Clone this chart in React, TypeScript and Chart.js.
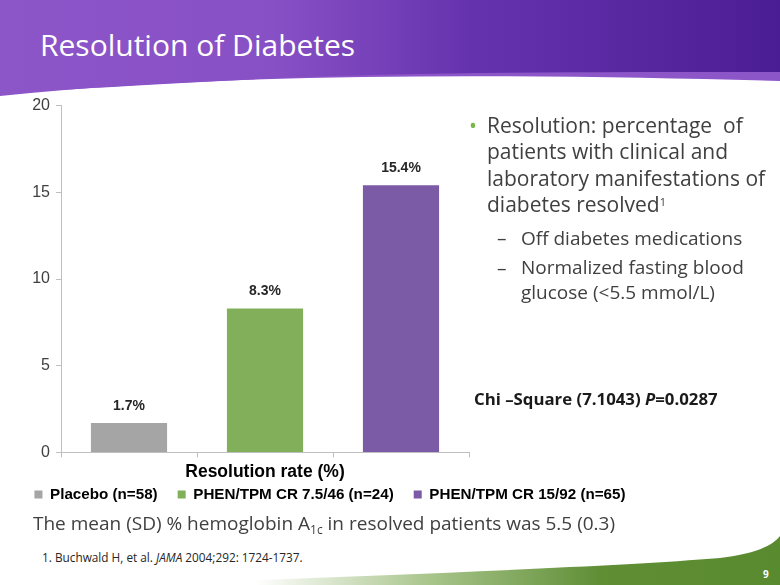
import React, { useEffect, useRef } from "react";
import { Chart, registerables } from "chart.js";

Chart.register(...registerables);

const categories = ["Placebo (n=58)", "PHEN/TPM CR 7.5/46 (n=24)", "PHEN/TPM CR 15/92 (n=65)"];
const resolutionRates = [1.7, 8.3, 15.4];
const rateLabels = ["1.7%", "8.3%", "15.4%"];
const barColors = ["#A5A5A5", "#82B05A", "#7B5AA6"];
const yMin = 0;
const yMax = 20;
const yStep = 5;
const xAxisTitle = "Resolution rate (%)";

const ARIAL = "'Liberation Sans', Arial, sans-serif";
const BODY = "'Open Sans', 'Noto Sans', sans-serif";
const TEXT = "#404040";

const valueLabelPlugin = {
  id: "valueLabels",
  afterDatasetsDraw(chart: any) {
    const ctx = chart.ctx;
    const meta = chart.getDatasetMeta(0);
    ctx.save();
    ctx.font = `bold 14px ${ARIAL}`;
    ctx.fillStyle = "#262626";
    ctx.textAlign = "center";
    ctx.textBaseline = "alphabetic";
    meta.data.forEach((el: any, i: number) => {
      ctx.fillText(rateLabels[i], el.x, el.y - 13);
    });
    ctx.restore();
  },
};

function BarChart() {
  const ref = useRef<HTMLCanvasElement>(null);
  useEffect(() => {
    if (!ref.current) return;
    const chart = new Chart(ref.current, {
      type: "bar",
      data: {
        labels: categories,
        datasets: [
          {
            data: resolutionRates,
            backgroundColor: barColors,
            borderWidth: 0,
            barPercentage: 0.56,
            categoryPercentage: 1,
          },
        ],
      },
      plugins: [valueLabelPlugin],
      options: {
        animation: false,
        responsive: false,
        layout: { padding: { top: 14, left: 0, right: 0, bottom: 0 } },
        plugins: {
          tooltip: { enabled: false },
          legend: {
            display: true,
            position: "bottom",
            labels: {
              boxWidth: 8,
              boxHeight: 8,
              padding: 20,
              color: "#000",
              font: { family: ARIAL, size: 15.2, weight: "bold" },
              generateLabels: () =>
                categories.map((c, i) => ({
                  text: c,
                  fillStyle: barColors[i],
                  strokeStyle: barColors[i],
                  lineWidth: 0,
                  hidden: false,
                  index: i,
                  datasetIndex: 0,
                  fontColor: "#000",
                })),
            },
            onClick: () => {},
          },
        },
        scales: {
          x: {
            grid: { display: true, drawOnChartArea: false, drawTicks: true, tickLength: 5, color: "#BFBFBF", offset: true },
            border: { display: true, color: "#BFBFBF" },
            ticks: { display: false },
            title: {
              display: true,
              text: xAxisTitle,
              color: "#000",
              font: { family: ARIAL, size: 17.5, weight: "bold", lineHeight: 1.2 },
              padding: { top: 4, bottom: -15.6 },
            },
          },
          y: {
            min: yMin,
            max: yMax,
            ticks: { stepSize: yStep, color: "#404040", font: { family: ARIAL, size: 16 }, padding: 6 },
            grid: { display: true, drawOnChartArea: false, drawTicks: true, tickLength: 5, color: "#BFBFBF" },
            border: { display: true, color: "#BFBFBF" },
            afterFit: (s: any) => {
              s.width = 61;
            },
          },
          yR: {
            type: "linear",
            position: "right",
            display: true,
            grid: { display: false },
            border: { display: false },
            ticks: { display: false },
            afterFit: (s: any) => {
              s.width = 191;
            },
          },
        },
      } as any,
    });
    return () => chart.destroy();
  }, []);
  return <canvas ref={ref} width={660} height={422} style={{ width: 660, height: 422, display: "block" }} />;
}

export default function App() {
  const abs = (o: React.CSSProperties): React.CSSProperties => ({ position: "absolute", whiteSpace: "nowrap", margin: 0, ...o });
  return (
    <div style={{ position: "fixed", left: 0, top: 0, width: 780, height: 585, overflow: "hidden", background: "#fff" }}>
      <svg width={780} height={585} style={{ position: "absolute", left: 0, top: 0 }}>
        <defs>
          <linearGradient id="hdr" x1="0" y1="0" x2="1" y2="0">
            <stop offset="0" stopColor="#8C55C8" />
            <stop offset="0.35" stopColor="#8850C5" />
            <stop offset="0.6" stopColor="#6633AE" />
            <stop offset="1" stopColor="#4B1D94" />
          </linearGradient>
          <linearGradient id="grn" x1="0" y1="0" x2="1" y2="0">
            <stop offset="0.18" stopColor="#FFFFFF" />
            <stop offset="0.45" stopColor="#A9C58C" />
            <stop offset="0.72" stopColor="#5F8E35" />
            <stop offset="1" stopColor="#5A8A2F" />
          </linearGradient>
        </defs>
        <path d="M0,0 H780 V81 C560,75 250,70 0,96 Z" fill="#8C55C8" />
        <path d="M0,0 H780 V72 C600,72 420,72 280,78 C160,84 60,90 0,93 Z" fill="url(#hdr)" />
        <path d="M140,585 C350,576 600,568 720,558 C755,554 772,546 780,536 V585 Z" fill="url(#grn)" />
      </svg>
      <div style={abs({ left: 40, top: 30.4, fontFamily: BODY, fontSize: 30, lineHeight: "30px", color: "#fff" })}>
        Resolution of Diabetes
      </div>
      <div style={{ position: "absolute", left: 0, top: 90, width: 660, height: 422 }}>
        <BarChart />
      </div>
      <div style={abs({ left: 469, top: 111.6, fontFamily: BODY, fontSize: 21, lineHeight: "26.5px", color: "#7AB648" })}>•</div>
      <div style={abs({ left: 487, top: 111.6, fontFamily: BODY, fontSize: 21, lineHeight: "26.5px", color: TEXT })}>
        <div style={{ whiteSpace: "pre" }}>Resolution: percentage  of</div>
        <div>patients with clinical and</div>
        <div>laboratory manifestations of</div>
        <div>
          diabetes resolved<sup style={{ fontSize: 11, verticalAlign: "6px", lineHeight: 0 }}>1</sup>
        </div>
      </div>
      <div style={abs({ left: 497, top: 224.6, fontFamily: BODY, fontSize: 19, lineHeight: "26px", color: TEXT })}>–</div>
      <div style={abs({ left: 497, top: 254.6, fontFamily: BODY, fontSize: 19, lineHeight: "26px", color: TEXT })}>–</div>
      <div style={abs({ left: 521, top: 224.6, fontFamily: BODY, fontSize: 19, lineHeight: "26px", color: TEXT })}>
        Off diabetes medications
      </div>
      <div style={abs({ left: 521, top: 255.1, fontFamily: BODY, fontSize: 19, lineHeight: "25px", color: TEXT })}>
        <div>Normalized fasting blood</div>
        <div>glucose (&lt;5.5 mmol/L)</div>
      </div>
      <div style={abs({ left: 474, top: 389, fontFamily: BODY, fontSize: 16.8, lineHeight: "20px", fontWeight: 700, color: "#1a1a1a" })}>
        Chi –Square (7.1043) <i>P</i>=0.0287
      </div>
      <div style={abs({ left: 33, top: 510, fontFamily: BODY, fontSize: 19, lineHeight: "26px", color: TEXT })}>
        The mean (SD) % hemoglobin A<sub style={{ fontSize: 12, verticalAlign: "-4px", lineHeight: 0 }}>1c</sub> in resolved patients was 5.5 (0.3)
      </div>
      <div style={abs({ left: 42, top: 549.4, fontFamily: BODY, fontSize: 11.8, lineHeight: "16px", color: "#262626" })}>
        1. Buchwald H, et al. <i>JAMA</i> 2004;292: 1724-1737.
      </div>
      <div style={abs({ left: 763, top: 567, fontFamily: BODY, fontSize: 10, lineHeight: "14px", fontWeight: 700, color: "#fff" })}>9</div>
    </div>
  );
}
